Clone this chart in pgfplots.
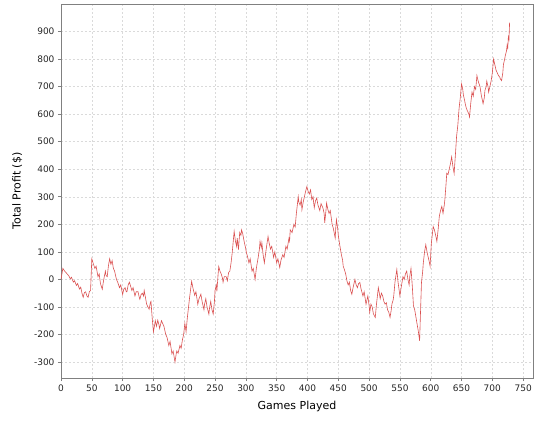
\documentclass[border=0pt]{standalone}
\usepackage{fontspec}
\setmainfont{DejaVu Sans}
\usepackage{pgfplots}
\pgfplotsset{compat=1.18}
\definecolor{profitred}{RGB}{218,80,80}
\definecolor{gridgray}{RGB}{218,218,218}
\definecolor{axisgray}{RGB}{128,128,128}

\begin{document}
\begin{tikzpicture}
\begin{axis}[
    scale only axis,
    width=472pt, height=374pt,
    xmin=0, xmax=766,
    ymin=-358, ymax=1000,
    xtick={0,50,...,750},
    ytick={-300,-200,...,900},
    grid=major,
    major grid style={gridgray, dash pattern=on 2pt off 2pt, line width=0.4pt},
    axis line style={axisgray, line width=0.6pt},
    tick style={axisgray, line width=0.6pt},
    tick align=outside,
    xtick pos=bottom, ytick pos=left,
    major tick length=3pt,
    /pgf/number format/assume math mode=true,
    tick label style={font=\fontsize{9}{10}\selectfont, text=black!85},
    label style={font=\fontsize{11}{12}\selectfont},
    xlabel={Games Played},
    ylabel={Total Profit (\$)},
    xlabel style={yshift=-3pt},
    ylabel style={yshift=5pt},
]
\addplot[profitred, line width=0.6pt] coordinates {
(0,0) (3,40) (6,30) (8,25) (10,20) (13,12) (15,2) (17,8) (20,-10) (22,-5)
(25,-22) (27,-15) (30,-35) (32,-28) (34,-50) (36,-65) (38,-48) (40,-45)
(42,-60) (44,-65) (46,-45) (48,-40) (50,75) (52,60) (55,40) (57,48) (60,10)
(62,20) (64,-15) (67,-36) (69,-5) (72,30) (73,15) (75,10) (77,50) (79,75)
(81,55) (83,68) (85,40) (87,30) (90,0) (92,-10) (95,-30) (97,-20) (100,-55)
(102,-35) (104,-30) (106,-45) (107,-45) (109,-20) (111,-10) (113,-25)
(115,-40) (117,-30) (120,-60) (122,-45) (125,-45) (127,-65) (128,-72)
(130,-55) (132,-50) (134,-60) (135,-40) (137,-65) (139,-90) (141,-100)
(143,-108) (145,-85) (146,-80) (148,-140) (150,-190) (152,-165) (153,-150)
(155,-170) (157,-148) (159,-165) (160,-178) (162,-160) (163,-150) (165,-160)
(167,-170) (169,-190) (170,-200) (172,-210) (175,-240) (177,-225) (180,-270)
(182,-260) (185,-300) (187,-270) (188,-260) (190,-268) (193,-240) (195,-250)
(197,-220) (199,-200) (201,-160) (202,-175) (203,-190) (205,-140) (207,-100)
(209,-60) (212,-7) (214,-30) (217,-58) (219,-45) (222,-90) (224,-70)
(227,-54) (229,-80) (232,-110) (233,-90) (235,-70) (237,-100) (240,-126)
(241,-105) (243,-80) (245,-110) (247,-126) (249,-80) (250,-40) (252,-20)
(253,-43) (255,20) (256,47) (258,30) (260,20) (262,5) (263,-10) (265,10)
(268,10) (270,-5) (272,25) (274,30) (276,60) (278,100) (280,150) (281,175)
(283,140) (285,120) (286,150) (288,108) (289,140) (290,170) (292,160)
(293,180) (295,165) (297,140) (299,120) (301,97) (303,80) (305,60) (307,75)
(310,30) (312,40) (315,0) (317,40) (320,80) (322,110) (323,138) (325,115)
(326,133) (328,90) (330,60) (333,110) (336,156) (338,130) (340,110)
(342,120) (345,80) (347,100) (350,60) (352,75) (355,43) (357,70) (360,90)
(362,80) (365,120) (367,110) (370,150) (371,140) (372,180) (375,170)
(378,200) (380,190) (382,240) (385,300) (386,280) (388,270) (390,290)
(391,253) (393,280) (395,300) (397,320) (399,337) (401,320) (403,310)
(405,325) (407,290) (409,300) (411,260) (413,285) (415,295) (417,270)
(420,250) (422,275) (425,260) (427,240) (428,205) (430,250) (431,277)
(433,255) (435,240) (437,250) (440,200) (442,185) (445,150) (446,190)
(447,217) (449,185) (450,160) (452,130) (455,90) (457,70) (458,48) (460,35)
(462,20) (464,-5) (466,-20) (468,-10) (470,-40) (472,-54) (474,-30)
(477,0) (479,-20) (481,-30) (483,-15) (485,-11) (487,-35) (490,-60)
(492,-45) (495,-90) (497,-70) (498,-60) (500,-95) (501,-120) (503,-90)
(505,-100) (507,-125) (510,-138) (512,-90) (515,-30) (517,-55) (518,-70)
(520,-50) (522,-60) (524,-80) (526,-90) (528,-85) (530,-110) (532,-120)
(534,-138) (536,-110) (537,-90) (539,-75) (540,-60) (542,-10) (545,36)
(547,-10) (550,-60) (552,-30) (555,10) (557,0) (559,20) (561,30) (563,0)
(565,-20) (566,10) (568,40) (570,-20) (572,-96) (574,-110) (577,-150)
(580,-190) (582,-223) (583,-150) (585,-12) (587,30) (588,60) (590,100)
(592,126) (594,100) (596,80) (598,60) (599,48) (601,130) (604,192)
(606,180) (607,170) (609,150) (610,138) (612,180) (614,230) (616,250)
(618,265) (620,240) (622,270) (623,290) (625,350) (626,385) (628,380)
(630,400) (632,420) (634,445) (636,410) (638,385) (640,450) (642,520)
(644,560) (646,620) (648,660) (650,710) (652,690) (653,670) (655,650)
(656,638) (658,620) (660,610) (662,600) (663,590) (665,640) (667,680)
(669,665) (671,700) (673,690) (675,740) (677,720) (680,700) (682,670)
(685,638) (687,660) (688,686) (690,700) (691,720) (693,700) (694,680)
(696,700) (698,720) (700,750) (702,800) (704,780) (706,760) (708,750)
(710,740) (712,735) (713,728) (715,722) (717,750) (718,780) (720,800)
(721,812) (723,830) (724,850) (725,840) (726,880) (727,870) (728,932)
};
\end{axis}
\pgfresetboundingbox
\path[use as bounding box] (-61pt,-42pt) rectangle (479pt,378pt);
\end{tikzpicture}
\end{document}
